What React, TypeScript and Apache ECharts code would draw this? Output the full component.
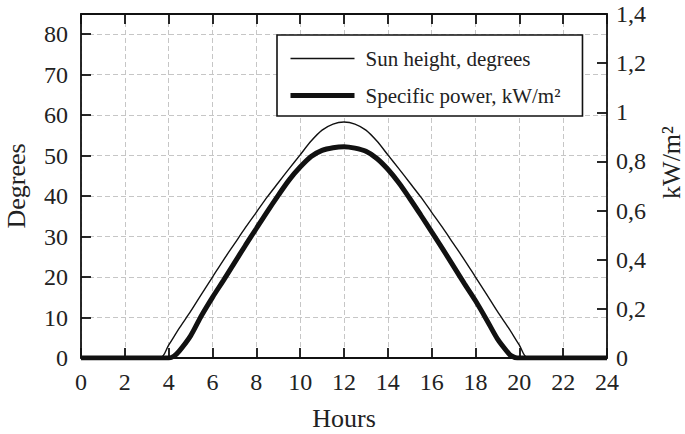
import React, { useEffect, useRef } from "react";
import * as echarts from "echarts";

// Hours of day for the sun height curve and its values (degrees)
const sunHours = [0, 3.6, 4, 4.5, 5, 5.5, 6, 6.5, 7, 7.5, 8, 8.5, 9, 9.5, 10, 10.5, 11, 11.5, 12, 12.5, 13, 13.5, 14, 14.5, 15, 15.5, 16, 16.5, 17, 17.5, 18, 18.5, 19, 19.5, 20, 20.4, 24];
const sunHeight = [0, 0, 3.2, 7.5, 11.5, 15.8, 20.0, 24.2, 28.2, 32.2, 36.0, 39.8, 43.3, 46.8, 50.2, 53.6, 56.3, 57.8, 58.3, 57.8, 56.3, 53.6, 50.2, 46.8, 43.3, 39.8, 36.0, 32.2, 28.2, 24.2, 20.0, 15.8, 11.5, 7.5, 3.2, 0, 0];

// Hours of day for the specific power curve and its values (kW/m²)
const powerHours = [0, 4.0, 4.25, 4.5, 5, 5.5, 6, 6.5, 7, 7.5, 8, 8.5, 9, 9.5, 10, 10.5, 11, 11.5, 12, 12.5, 13, 13.5, 14, 14.5, 15, 15.5, 16, 16.5, 17, 17.5, 18, 18.5, 19, 19.5, 19.65, 19.9, 24];
const powerKw = [0, 0, 0.008, 0.03, 0.09, 0.173, 0.247, 0.316, 0.387, 0.458, 0.527, 0.596, 0.662, 0.725, 0.777, 0.82, 0.845, 0.856, 0.86, 0.854, 0.841, 0.812, 0.768, 0.713, 0.649, 0.582, 0.513, 0.444, 0.373, 0.302, 0.233, 0.157, 0.078, 0.02, 0.008, 0, 0];

const seriesNames = ["Sun height, degrees", "Specific power, kW/m²"];

const xRange = [0, 24];
const xStep = 2;
const degRange = [0, 85];
const degStep = 10;
const kwRange = [0, 1.4];
const kwStep = 0.2;

const FONT = "'Liberation Serif', 'Times New Roman', serif";
const TXT = "#222";

export default function App() {
  const ref = useRef<HTMLDivElement>(null);
  useEffect(() => {
    if (!ref.current) return;
    const chart = echarts.init(ref.current, undefined, { renderer: "svg" });
    const axisLine = { show: true, onZero: false, lineStyle: { color: "#111", width: 1.8 } };
    const tick = { show: true, inside: true, length: 10, lineStyle: { color: "#111", width: 1.8 } };
    const grid = { show: true, lineStyle: { color: "#c6c6c6", width: 1, type: [5, 3] as any } };
    const label = { color: TXT, fontFamily: FONT, fontSize: 24 };
    const nameStyle = { color: TXT, fontFamily: FONT, fontSize: 26 };
    const option: any = {
      animation: false,
      backgroundColor: "#fff",
      textStyle: { fontFamily: FONT },
      grid: { left: 81, right: 78, top: 14, bottom: 76, containLabel: false, outerBoundsMode: "none" },
      legend: {
        show: true,
        orient: "vertical",
        left: 277,
        top: 35,
        itemWidth: 64,
        itemHeight: 14,
        itemGap: 16,
        padding: [13, 22, 10, 11],
        borderColor: "#111",
        borderWidth: 1.6,
        backgroundColor: "#fff",
        itemStyle: { opacity: 0 },
        lineStyle: { width: "inherit" },
        textStyle: { color: TXT, fontFamily: FONT, fontSize: 21, padding: [0, 0, 0, 6] },
        data: seriesNames,
      },
      xAxis: [
        {
          type: "value",
          position: "bottom",
          min: xRange[0],
          max: xRange[1],
          interval: xStep,
          axisLine,
          axisTick: tick,
          splitLine: grid,
          axisLabel: { ...label, margin: 12 },
          name: "Hours",
          nameLocation: "middle",
          nameGap: 47,
          nameTextStyle: nameStyle,
        },
        {
          type: "value",
          position: "top",
          min: xRange[0],
          max: xRange[1],
          interval: xStep,
          axisLine,
          axisTick: tick,
          splitLine: { show: false },
          axisLabel: { show: false },
        },
      ],
      yAxis: [
        {
          type: "value",
          position: "left",
          min: degRange[0],
          max: degRange[1],
          interval: degStep,
          axisLine,
          axisTick: tick,
          splitLine: grid,
          axisLabel: { ...label, margin: 13, showMaxLabel: false },
          name: "Degrees",
          nameLocation: "middle",
          nameGap: 52,
          nameTextStyle: nameStyle,
        },
        {
          type: "value",
          position: "right",
          min: kwRange[0],
          max: kwRange[1],
          interval: kwStep,
          axisLine,
          axisTick: tick,
          splitLine: { show: false },
          axisLabel: {
            ...label,
            margin: 9,
            formatter: (v: number) => String(Math.round(v * 10) / 10).replace(".", ","),
          },
          name: "kW/m²",
          nameLocation: "middle",
          nameGap: 51,
          nameRotate: 90,
          nameTextStyle: { ...nameStyle, padding: [0, 0, 0, 47] },
        },
      ],
      series: [
        {
          name: seriesNames[0],
          type: "line",
          xAxisIndex: 0,
          yAxisIndex: 0,
          data: sunHours.map((h, i) => [h, sunHeight[i]]),
          symbol: "none",
          smooth: 0.3,
          lineStyle: { color: "#111", width: 1.4 },
          itemStyle: { color: "#111" },
        },
        {
          name: seriesNames[1],
          type: "line",
          xAxisIndex: 0,
          yAxisIndex: 1,
          data: powerHours.map((h, i) => [h, powerKw[i]]),
          symbol: "none",
          smooth: 0.3,
          lineStyle: { color: "#111", width: 5 },
          itemStyle: { color: "#111" },
        },
      ],
    };
    chart.setOption(option);
    return () => chart.dispose();
  }, []);
  return <div ref={ref} style={{ position: "absolute", left: 0, top: 0, width: 685, height: 434 }} />;
}
